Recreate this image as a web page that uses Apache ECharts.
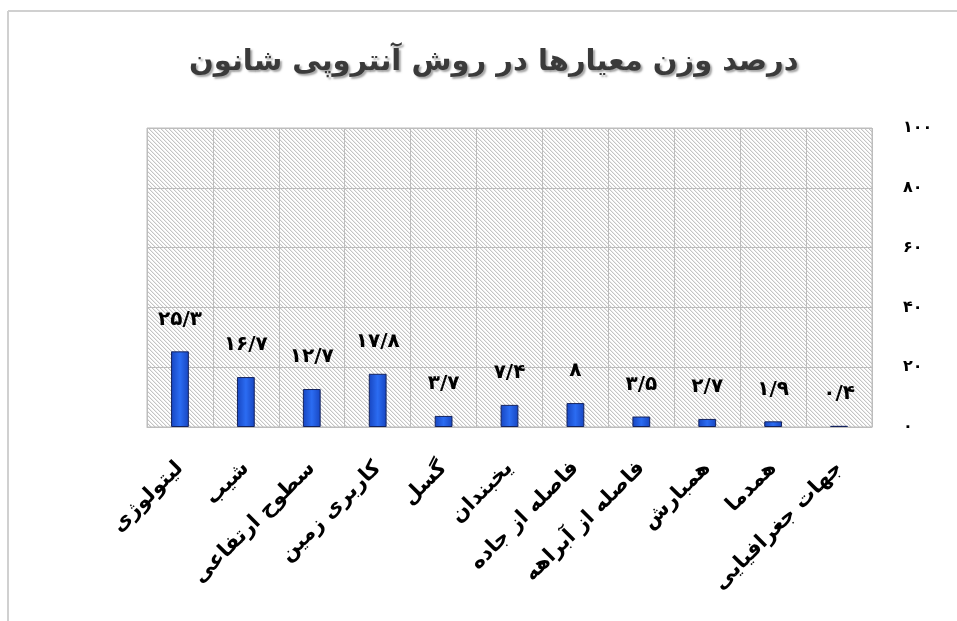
<!DOCTYPE html>
<html>
<head>
<meta charset="utf-8">
<script src="https://cdn.jsdelivr.net/npm/echarts@6/dist/echarts.min.js"></script>
<style>
html,body{margin:0;padding:0;background:#fff;}
#chart{width:957px;height:621px;}
</style>
</head>
<body>
<div id="chart"></div>
<script>
const titleText = 'درصد وزن معیارها در روش آنتروپی شانون';
const categories = ['لیتولوژی','شیب','سطوح ارتفاعی','کاربری زمین','گسل','یخبندان','فاصله از جاده','فاصله از آبراهه','همبارش','همدما','جهات جغرافیایی'];
const values = [25.3, 16.7, 12.7, 17.8, 3.7, 7.4, 8, 3.5, 2.7, 1.9, 0.4];
const valueLabels = ['۲۵/۳','۱۶/۷','۱۲/۷','۱۷/۸','۳/۷','۷/۴','۸','۳/۵','۲/۷','۱/۹','۰/۴'];
const yTickLabels = {0:'۰',20:'۲۰',40:'۴۰',60:'۶۰',80:'۸۰',100:'۱۰۰'};

const persianFont = '"DejaVu Sans", sans-serif';

// hatch pattern tile
const tile = document.createElement('canvas');
tile.width = 4; tile.height = 4;
const tctx = tile.getContext('2d');
tctx.fillStyle = '#ffffff';
tctx.fillRect(0,0,4,4);
for (let i = 0; i < 4; i++) {
  tctx.fillStyle = '#c4c4c4';
  tctx.fillRect(i, i, 1, 1);
  tctx.fillStyle = '#ececec';
  tctx.fillRect((i+1)%4, i, 1, 1);
}

const chart = echarts.init(document.getElementById('chart'), null, {renderer:'canvas'});
chart.setOption({
  animation: false,
  backgroundColor: '#ffffff',
  title: {
    text: titleText,
    left: 184,
    top: 43,
    textStyle: {
      fontFamily: persianFont,
      fontSize: 29,
      fontWeight: 'bold',
      color: '#3a3a3a',
      textShadowColor: 'rgba(0,0,0,0.35)',
      textShadowOffsetX: 2,
      textShadowOffsetY: 2,
      textShadowBlur: 2
    }
  },
  graphic: [
    {type:'line', shape:{x1:8, y1:11, x2:957, y2:11}, style:{stroke:'#d0d0d0', lineWidth:2}, silent:true},
    {type:'line', shape:{x1:8, y1:11, x2:8, y2:621}, style:{stroke:'#d0d0d0', lineWidth:2}, silent:true}
  ],
  grid: {
    left: 147, right: 85, top: 128, bottom: 194,
    show: true,
    backgroundColor: {image: tile, repeat: 'repeat'},
    borderColor: '#bdbdbd',
    borderWidth: 1
  },
  xAxis: {
    type: 'category',
    data: categories,
    axisLine: {show: true, lineStyle: {color: '#bdbdbd'}},
    axisTick: {show: false},
    splitLine: {show: true, interval: 0, lineStyle: {color: '#bdbdbd', width: 1}},
    axisLabel: {
      interval: 0,
      rotate: 45,
      margin: 38,
      fontFamily: persianFont,
      fontSize: 21,
      fontWeight: 'bold',
      color: '#000000'
    }
  },
  yAxis: {
    type: 'value',
    position: 'right',
    min: 0, max: 100, interval: 20,
    axisLine: {show: false},
    axisTick: {show: false},
    splitLine: {show: true, lineStyle: {color: '#bdbdbd', width: 1}},
    axisLabel: {
      margin: 31,
      fontFamily: persianFont,
      fontSize: 16,
      fontWeight: 'bold',
      color: '#000000',
      formatter: v => yTickLabels[v] !== undefined ? yTickLabels[v] : ''
    }
  },
  series: [{
    type: 'bar',
    data: values,
    barWidth: '27%',
    itemStyle: {
      color: new echarts.graphic.LinearGradient(0,0,1,0,[
        {offset:0, color:'#1745c0'},
        {offset:0.5, color:'#2b6cf2'},
        {offset:1, color:'#1745c0'}
      ]),
      borderColor: '#14235e',
      borderWidth: 1
    },
    label: {
      show: true,
      position: 'top',
      distance: 22,
      fontFamily: persianFont,
      fontSize: 20,
      fontWeight: 'bold',
      color: '#000000',
      formatter: p => valueLabels[p.dataIndex]
    }
  }]
});
</script>
</body>
</html>
